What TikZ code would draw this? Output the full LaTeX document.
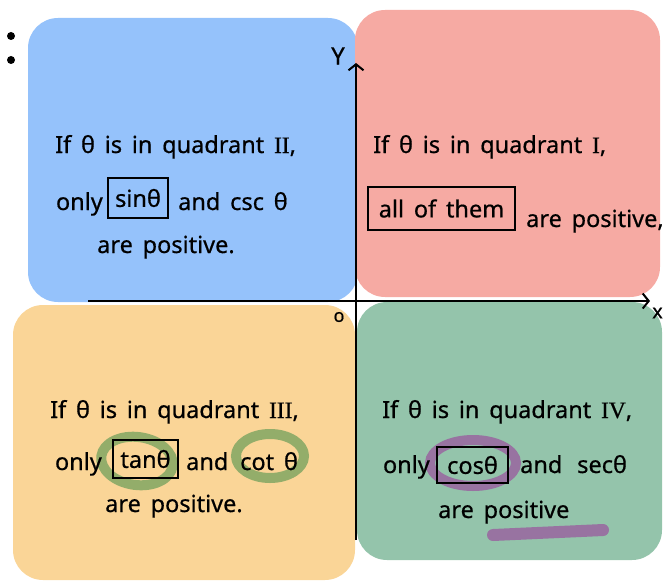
\documentclass[tikz,border=0pt]{standalone}
\usepackage{fontspec}
\setmainfont{Noto Sans}[WordSpace={1.6},FakeBold=0.6]
\newfontfamily\numfont{Liberation Serif}[FakeBold=0.6]
\usetikzlibrary{arrows.meta}
\definecolor{qblue}{HTML}{95C2FB}
\definecolor{qred}{HTML}{F6AAA3}
\definecolor{qorange}{HTML}{FAD597}
\definecolor{qgreen}{HTML}{94C4AB}
\definecolor{mpurple}{HTML}{9873A1}
\definecolor{mgreen}{HTML}{93AD6A}
\tikzset{
  blob/.style={rounded corners=30pt},
  txt/.style={font=\fontsize{23.5}{23.5}\selectfont, inner sep=0pt, anchor=base west},
  txtr/.style={txt, anchor=base east},
  boxed/.style={draw, line width=2pt, inner sep=0pt, font=\fontsize{23.5}{23.5}\selectfont},
  marker/.style={line width=10pt, line cap=round},
  axis/.style={line width=2.2pt, -{Straight Barb[length=6pt,width=15pt,line width=2pt]}},
}
\begin{document}
\begin{tikzpicture}[x=1pt,y=-1pt]
\useasboundingbox (0,0) rectangle (663,583);
% quadrant backgrounds
\fill[qblue,blob] (28,18) rectangle (358,302);
\fill[qred,blob] (355,10) rectangle (660,297);
\fill[qorange,blob] (13,305) rectangle (355,580);
\fill[qgreen,blob] (357,302) rectangle (662,560);
% colon dots
\fill (11,36) circle (4);
\fill (11,60) circle (4);
% markers
\draw[marker,mgreen,rotate around={-8:(137,461)}] (137,461) ellipse (36 and 24);
\draw[marker,mgreen] (270,456) ellipse (34 and 22);
\draw[marker,mpurple] (473,463) ellipse (43 and 23);
\draw[line width=12pt,line cap=round,mpurple] (493,535) -- (603,530);
% axes
\coordinate (xs) at (88,301);
\coordinate (xe) at (650,301);
\coordinate (ys) at (356,540);
\coordinate (ye) at (356,63);
\draw[axis] (xs) -- (xe);
\draw[axis] (ys) -- (ye);
\node[font=\fontsize{24}{24}\selectfont, inner sep=0pt] (ylab) at (338,56) {Y};
\node[font=\fontsize{20}{20}\selectfont, inner sep=0pt, anchor=east] (xlab) at (663,313) {x};
\node[font=\fontsize{18}{18}\selectfont, inner sep=0pt] (orig) at (339,317) {o};
% Quadrant II
\node[txt] (q2a) at (55,153) {If θ is in quadrant {\numfont II},};
\node[txtr] (q2b) at (103,210) {only};
\node[boxed, minimum width=60pt, minimum height=40pt] (q2box) at (138,198) {sinθ};
\node[txt] (q2c) at (178,210) {and csc θ};
\node[txt] (q2d) at (97,253) {are positive.};
% Quadrant I
\node[txt] (q1a) at (373,153) {If θ is in quadrant {\numfont I},};
\node[boxed, minimum width=147pt, minimum height=43pt] (q1box) at (441.5,208.5) {all of them};
\node[txt] (q1b) at (526,227) {are positive,};
% Quadrant III
\node[txt] (q3a) at (50,418) {If θ is in quadrant {\numfont III},};
\node[txtr] (q3b) at (102,470) {only};
\node[boxed, minimum width=65pt, minimum height=38pt] (q3box) at (145.5,459) {tanθ};
\node[txt] (q3c) at (186,470) {and};
\node[txt] (q3d) at (240,470) {cot θ};
\node[txt] (q3e) at (105,512) {are positive.};
% Quadrant IV
\node[txt] (q4a) at (382,418) {If θ is in quadrant {\numfont IV},};
\node[txtr] (q4b) at (430,473) {only};
\node[boxed, minimum width=71pt, minimum height=36pt] (q4box) at (472.5,465) {cosθ};
\node[txt] (q4c) at (520,473) {and};
\node[txt] (q4d) at (577,473) {secθ};
\node[txt] (q4e) at (438,518) {are positive};
\end{tikzpicture}
\end{document}
